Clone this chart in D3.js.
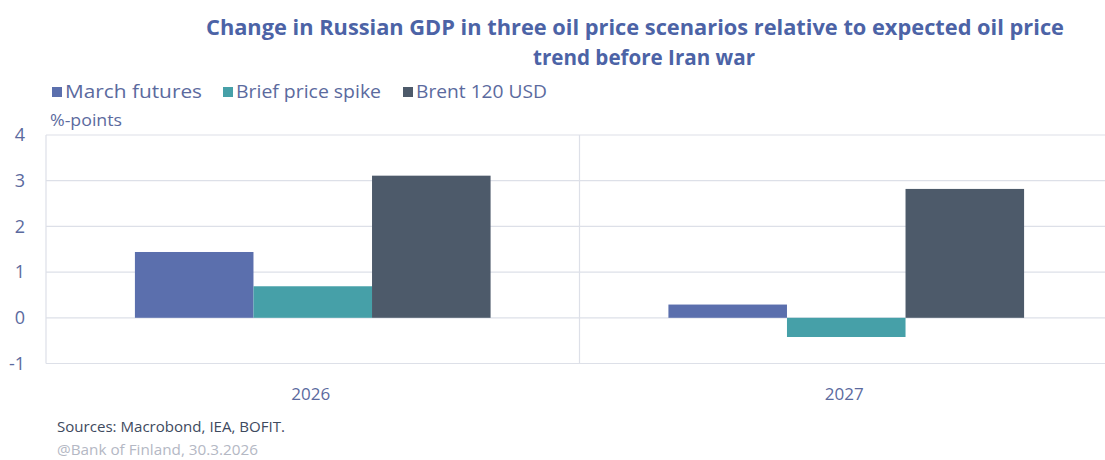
<!DOCTYPE html>
<html><head><meta charset="utf-8">
<script src="https://cdn.jsdelivr.net/npm/d3@7/dist/d3.min.js"></script>
<style>body{margin:0;background:#fff}svg{display:block}</style>
</head><body>
<svg id="c" width="1105" height="460"></svg>
<script>
const categories = ["2026", "2027"];
const seriesNames = ["March futures", "Brief price spike", "Brent 120 USD"];
const marchFutures = [1.44, 0.29];
const briefSpike = [0.69, -0.42];
const brent120 = [3.11, 2.82];
const yTicks = [-1, 0, 1, 2, 3, 4];
const colors = ["#5b6fad", "#46a0a8", "#4d5a6a"];

const series = [marchFutures, briefSpike, brent120];
const svg = d3.select("#c");
const pLeft = 46, pRight = 1113, pTop = 135, pBottom = 363.5;
const font = "'Open Sans', sans-serif";

const y = d3.scaleLinear().domain([-1, 4]).range([pBottom, pTop]);
const x0 = d3.scaleBand().domain(categories).range([pLeft, pRight]);
const x1 = d3.scaleBand().domain(seriesNames).range([0, x0.bandwidth()])
  .paddingInner(0).paddingOuter(0.75);

// gridlines
svg.append("g").selectAll("line").data(yTicks).join("line")
  .attr("x1", pLeft).attr("x2", pRight)
  .attr("y1", d => y(d)).attr("y2", d => y(d))
  .attr("stroke", "#dde0e8").attr("stroke-width", 1.2);
// vertical dividers
svg.append("g").selectAll("line").data(categories).join("line")
  .attr("x1", d => x0(d)).attr("x2", d => x0(d))
  .attr("y1", pTop).attr("y2", pBottom)
  .attr("stroke", "#dde0e8").attr("stroke-width", 1.2);

// bars
categories.forEach((c, i) => {
  svg.append("g").selectAll("rect").data(seriesNames).join("rect")
    .attr("x", s => x0(c) + x1(s))
    .attr("width", x1.bandwidth())
    .attr("y", (s, j) => y(Math.max(0, series[j][i])))
    .attr("height", (s, j) => Math.abs(y(series[j][i]) - y(0)))
    .attr("fill", (s, j) => colors[j]);
});

// y tick labels
svg.append("g").selectAll("text").data(yTicks).join("text")
  .attr("x", 25).attr("y", d => y(d)).attr("dy", "0.35em")
  .attr("text-anchor", "end").attr("font-family", font).attr("font-size", 18)
  .attr("fill", "#5b6a9e").text(d => d);

// category labels
svg.append("g").selectAll("text").data(categories).join("text")
  .attr("x", d => x0(d) + x0.bandwidth() / 2 - 2).attr("y", 400)
  .attr("text-anchor", "middle").attr("font-family", font).attr("font-size", 17)
  .attr("fill", "#5b6a9e").text(d => d);

// unit label
svg.append("text").attr("x", 50).attr("y", 126).attr("font-family", font)
  .attr("font-size", 16).attr("fill", "#5b6a9e")
  .attr("textLength", 72).attr("lengthAdjust", "spacingAndGlyphs").text("%-points");

// title
const title = svg.append("g").attr("font-family", font).attr("font-weight", "bold")
  .attr("font-size", 21).attr("fill", "#4c63a6").attr("text-anchor", "middle");
title.append("text").attr("x", 635).attr("y", 35)
  .attr("textLength", 858).attr("lengthAdjust", "spacingAndGlyphs")
  .text("Change in Russian GDP in three oil price scenarios relative to expected oil price");
title.append("text").attr("x", 644).attr("y", 65)
  .attr("textLength", 222).attr("lengthAdjust", "spacingAndGlyphs")
  .text("trend before Iran war");

// legend
const legX = [52, 223, 403];
const legW = [137, 145, 131];
const lg = svg.append("g").selectAll("g").data(seriesNames).join("g")
  .attr("transform", (d, i) => `translate(${legX[i]},92)`);
lg.append("rect").attr("x", 0).attr("y", -5).attr("width", 10).attr("height", 10)
  .attr("fill", (d, i) => colors[i]);
lg.append("text").attr("x", 13).attr("y", 0).attr("dy", "0.35em")
  .attr("font-family", font).attr("font-size", 18).attr("fill", "#5b6a9e")
  .attr("textLength", (d, i) => legW[i]).attr("lengthAdjust", "spacingAndGlyphs")
  .text(d => d);

// sources
svg.append("text").attr("x", 57).attr("y", 432).attr("font-family", font)
  .attr("font-size", 14.5).attr("fill", "#3e4a5e")
  .attr("textLength", 228).attr("lengthAdjust", "spacingAndGlyphs")
  .text("Sources: Macrobond, IEA, BOFIT.");
svg.append("text").attr("x", 57).attr("y", 455).attr("font-family", font)
  .attr("font-size", 14.5).attr("fill", "#b4b8c4")
  .attr("textLength", 201).attr("lengthAdjust", "spacingAndGlyphs")
  .text("@Bank of Finland, 30.3.2026");
</script>
</body></html>
